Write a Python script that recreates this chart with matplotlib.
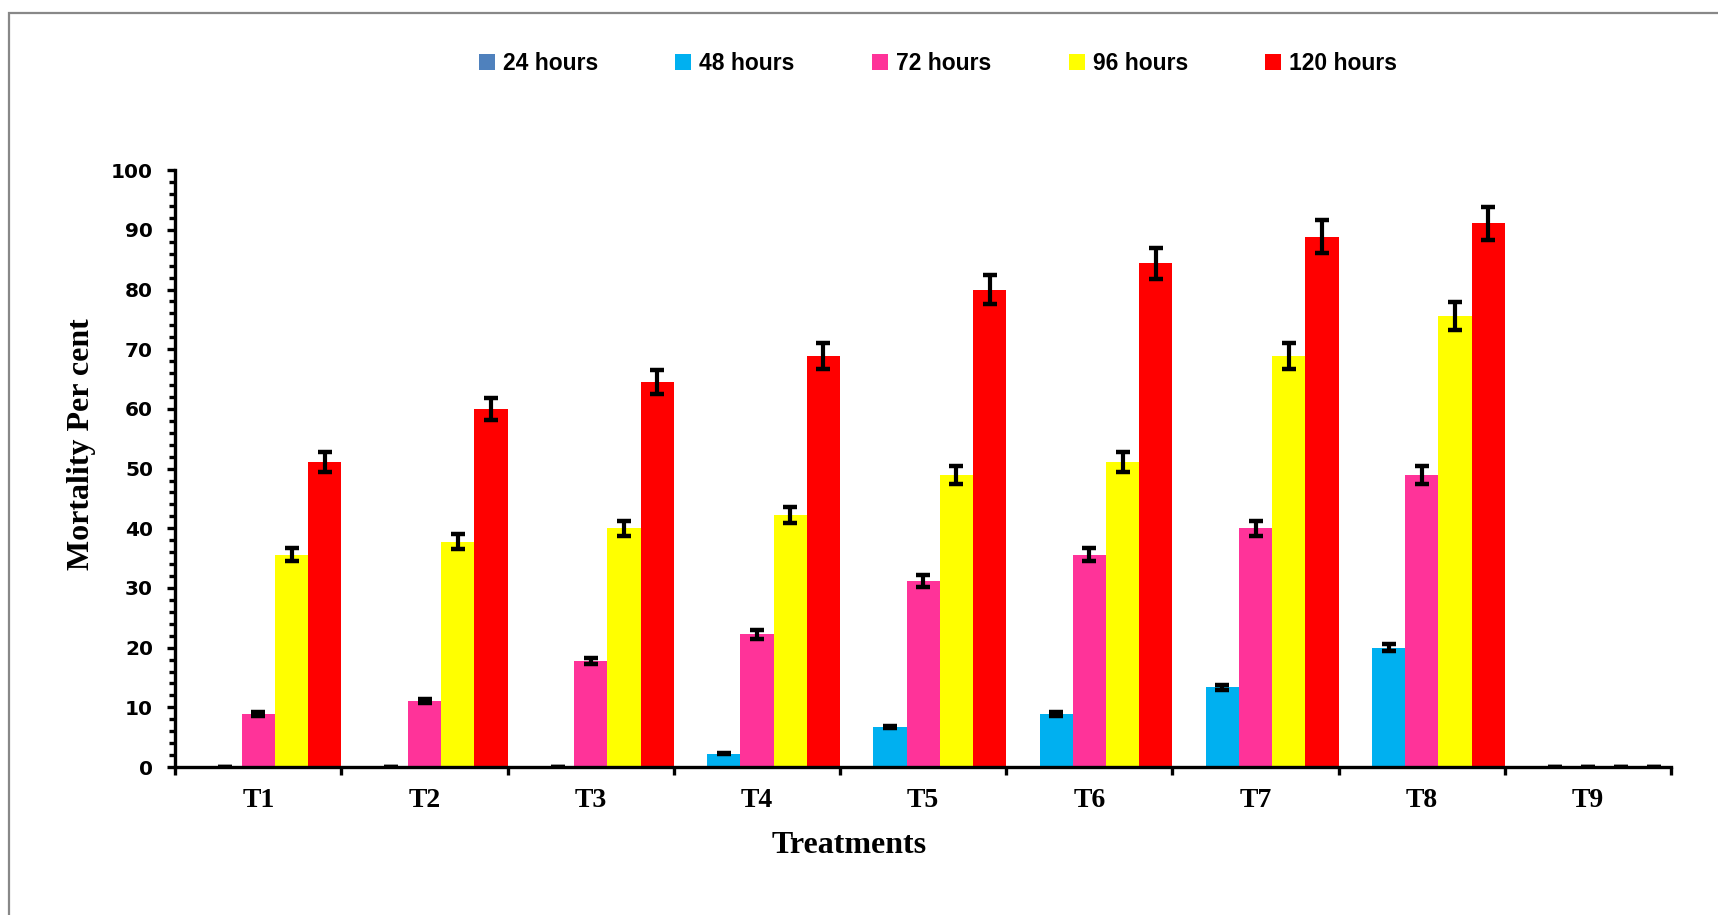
import matplotlib
matplotlib.use("Agg")
import matplotlib.pyplot as plt
import numpy as np
from matplotlib.patches import Rectangle
from matplotlib.ticker import MultipleLocator

# Mortality (%) per treatment at each exposure time
treatments = ["T1", "T2", "T3", "T4", "T5", "T6", "T7", "T8", "T9"]
series_names = ["24 hours", "48 hours", "72 hours", "96 hours", "120 hours"]
h24 = [0, 0, 0, 0, 0, 0, 0, 0, 0]
h48 = [0, 0, 0, 2.22, 6.67, 8.89, 13.33, 20.0, 0]
h72 = [8.89, 11.11, 17.78, 22.22, 31.11, 35.56, 40.0, 48.89, 0]
h96 = [35.56, 37.78, 40.0, 42.22, 48.89, 51.11, 68.89, 75.56, 0]
h120 = [51.11, 60.0, 64.44, 68.89, 80.0, 84.44, 88.89, 91.11, 0]

# standard errors (24 h has none)
e24 = None
e48 = [0, 0, 0, 0.1, 0.2, 0.3, 0.4, 0.6, 0]
e72 = [0.3, 0.35, 0.55, 0.7, 1.0, 1.1, 1.25, 1.5, 0]
e96 = [1.1, 1.2, 1.25, 1.3, 1.5, 1.6, 2.15, 2.35, 0]
e120 = [1.6, 1.85, 2.0, 2.15, 2.5, 2.6, 2.75, 2.8, 0]

colors = ["#4F81BD", "#00B0F0", "#FF3399", "#FFFF00", "#FF0000"]

values = [h24, h48, h72, h96, h120]
errors = [e24, e48, e72, e96, e120]

fig = plt.figure(figsize=(17.18, 9.15), dpi=100)
ax = fig.add_axes([0.102, 0.1617, 0.8707, 0.6523])

x = np.arange(len(treatments))
width = 0.2
for j, (vals, errs, col, name) in enumerate(zip(values, errors, colors, series_names)):
    pos = x + width * (j + 0.5)
    ax.bar(pos, vals, width=width, color=col, label=name, zorder=2)
    if errs is not None:
        ax.errorbar(pos, vals, yerr=errs, fmt="none", ecolor="black",
                    elinewidth=3.0, capsize=5.0, capthick=3.2, zorder=3)

ax.set_xlim(0, len(treatments))
ax.set_ylim(0, 100)

for side in ["top", "right"]:
    ax.spines[side].set_visible(False)
for side in ["left", "bottom"]:
    ax.spines[side].set_linewidth(2.4)

ax.yaxis.set_major_locator(MultipleLocator(10))
ax.yaxis.set_minor_locator(MultipleLocator(2))
ax.tick_params(axis="y", which="major", length=6, width=2.4, pad=10)
ax.tick_params(axis="y", which="minor", length=4, width=2.4)
for lbl in ax.get_yticklabels():
    lbl.set_fontfamily("DejaVu Sans")
    lbl.set_fontweight("bold")
    lbl.set_fontsize(14.5)

# boundaries get tick marks, group centres get the labels
ax.set_xticks(np.arange(len(treatments) + 1))
ax.set_xticklabels([])
ax.set_xticks(x + 0.5, minor=True)
ax.set_xticklabels(treatments, minor=True, fontfamily="Liberation Serif",
                   fontweight="bold", fontsize=20)
ax.tick_params(axis="x", which="major", length=6, width=2.4)
ax.tick_params(axis="x", which="minor", length=0, pad=15)

fig.text(0.0477, 0.515, "Mortality Per cent", rotation=90, ha="center", va="center",
         fontfamily="Liberation Serif", fontweight="bold", fontsize=23)
fig.text(0.494, 0.0765, "Treatments", ha="center", va="center",
         fontfamily="Liberation Serif", fontweight="bold", fontsize=23)

leg = fig.legend(loc="center", bbox_to_anchor=(0.546, 0.9306), ncol=5, frameon=False,
                 prop={"family": "Liberation Sans", "weight": "bold", "size": 16.5},
                 handlelength=0.7, handleheight=0.7, handletextpad=0.35,
                 columnspacing=3.37)

# thin grey frame round the chart area
fig.patches.append(Rectangle((8.5 / 1718, -0.2), 1.3, 1.2 - 12.5 / 915,
                             transform=fig.transFigure, fill=False,
                             edgecolor="#888888", linewidth=1.6))

fig.savefig("out.png", dpi=100, facecolor="white")
